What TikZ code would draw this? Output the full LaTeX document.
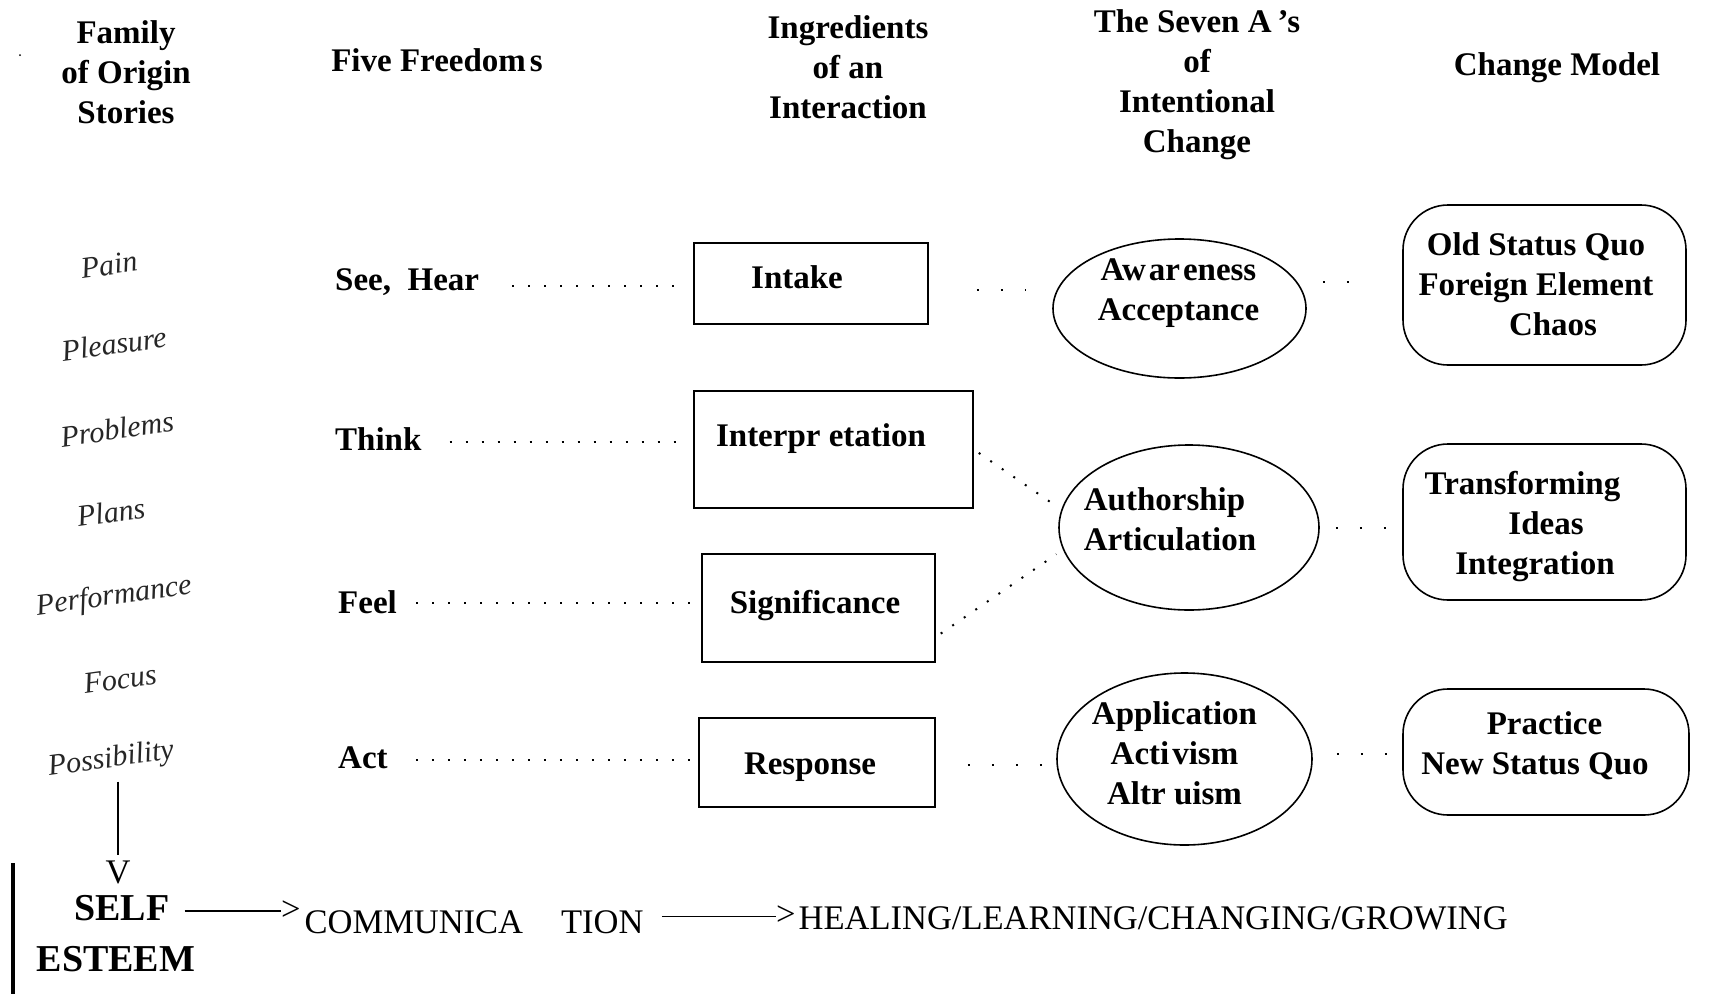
\documentclass[tikz,border=0pt]{standalone}
\usepackage{fontspec}
\setmainfont{Liberation Serif}
\usetikzlibrary{shapes.geometric}
\newcommand\bt{\fontsize{33}{40}\selectfont\bfseries}
\newcommand\storyfont{\fontsize{30}{36}\selectfont\itshape}
\newcommand\selffont{\fontsize{38}{44}\selectfont\bfseries}
\newcommand\capsfont{\fontsize{34.5}{40}\selectfont}
% text block shifted by (dx,dy) from the node centre; lines centred
\newcommand\tx[3]{\raisebox{\dimexpr#2-9pt\relax}[0pt][0pt]{\makebox[0pt]{\hspace*{#1}\hspace*{#1}\begin{tabular}{@{}c@{}}#3\end{tabular}}}}
% same, lines left aligned
\newcommand\txl[3]{\raisebox{\dimexpr#2-9pt\relax}[0pt][0pt]{\makebox[0pt]{\hspace*{#1}\hspace*{#1}\begin{tabular}{@{}l@{}}#3\end{tabular}}}}
\begin{document}
\begin{tikzpicture}[x=1pt,y=1pt,
  hd/.style={font=\bt, align=center, inner sep=0pt},
  ff/.style={font=\bt, anchor=west, inner sep=0pt},
  boxx/.style={draw, line width=1.6pt, inner sep=0pt, font=\bt},
  oval/.style={ellipse, draw, line width=1.6pt, inner sep=0pt, font=\bt},
  rbox/.style={draw, rounded corners=45pt, line width=1.6pt, inner sep=0pt, font=\bt},
  story/.style={font=\storyfont, rotate=8, inner sep=0pt, text=black!85},
  dots/.style={line width=2pt, dash pattern=on 2pt off 14pt},
  sparse/.style={line width=2pt, dash pattern=on 2pt off 22pt},
  caps/.style={font=\capsfont, inner sep=0pt},
  plain/.style={line width=1.3pt},
]
\useasboundingbox[fill=white] (0,0) rectangle (1709,-994);

% headers
\node[hd] (hfam) at (126,-72.5) {Family\\of Origin\\Stories};
\node[hd] (hfive) at (437,-60) {Five Freedom\hspace{4pt}s};
\node[hd] (hing) at (848,-67) {Ingredients\\of an\\Interaction};
\node[hd] (hseven) at (1197,-84.5) {The Seven A\hspace{6pt}’s\\of\\Intentional\\Change};
\node[hd] (hchange) at (1557,-67.6) {Change Model};
\fill (20,-55) circle (1pt);

% family of origin stories
\node[story] (pain) at (109,-265) {Pain};
\node[story] (pleasure) at (114,-344) {Pleasure};
\node[story] (problems) at (117,-429) {Problems};
\node[story] (plans) at (111,-512) {Plans};
\node[story] (perf) at (114,-597) {Performance};
\node[story] (focus) at (120,-679) {Focus};
\node[story] (poss) at (111,-760) {Possibility};

% five freedoms
\node[ff] (see) at (335,-282) {See,\ \ Hear};
\node[ff] (think) at (335,-439) {Think};
\node[ff] (feel) at (338,-602) {Feel};
\node[ff] (act) at (338,-758) {Act};

% ingredients
\node[boxx, minimum width=234pt, minimum height=81pt] (intake) at (811,-283.5) {\tx{-14pt}{5.5pt}{Intake}};
\node[boxx, minimum width=279pt, minimum height=117pt] (interp) at (833.5,-449.5) {\tx{-12.5pt}{13.5pt}{Interpr etation}};
\node[boxx, minimum width=233pt, minimum height=108pt] (sig) at (818.5,-608) {\tx{-3.5pt}{5pt}{Significance}};
\node[boxx, minimum width=236pt, minimum height=89pt] (resp) at (817,-762.5) {\tx{-7pt}{-1.5pt}{Response}};

% seven A's
\node[oval, minimum width=253pt, minimum height=139pt] (aware) at (1179.5,-308.5) {\tx{-1pt}{18.5pt}{Aw\hspace{3pt}ar\hspace{3pt}eness\\Acceptance}};
\node[oval, minimum width=260pt, minimum height=165pt] (auth) at (1189,-527.5) {\txl{-19pt}{7.5pt}{Authorship\\Articulation}};
\node[oval, minimum width=255pt, minimum height=172pt] (appl) at (1184.5,-759) {\tx{-10pt}{5pt}{Application\\Acti\hspace{3pt}vism\\Altr uism}};

% change model
\node[rbox, minimum width=283pt, minimum height=160pt] (cm1) at (1544.5,-285) {\tx{-8.5pt}{0pt}{Old Status Quo\\Foreign Element\\\hspace*{34pt}Chaos}};
\node[rbox, minimum width=283pt, minimum height=156pt] (cm2) at (1544.5,-522) {\tx{-9.5pt}{-2pt}{\hspace*{-25pt}Transforming\\\hspace*{22pt}Ideas\\Integration}};
\node[rbox, minimum width=286pt, minimum height=126pt] (cm3) at (1546,-752) {\tx{-11pt}{8pt}{\hspace*{19pt}Practice\\New Status Quo}};

% dotted connectors
\draw[dots, shorten <=33pt, shorten >=7pt] ([yshift=-4pt]see.east) -- ([yshift=-4pt]see.east -| intake.west);
\draw[dots, shorten <=28pt, shorten >=11pt] ([yshift=-3pt]think.east) -- ([yshift=-3pt]think.east -| interp.west);
\draw[dots, shorten <=19pt, shorten >=5pt] ([yshift=-1pt]feel.east) -- ([yshift=-1pt]feel.east -| sig.west);
\draw[dots, shorten <=28pt, shorten >=5pt] ([yshift=-2pt]act.east) -- ([yshift=-2pt]act.east -| resp.west);
\draw[sparse, shorten <=48pt, shorten >=26pt] ([yshift=-6pt]intake.east) -- ([yshift=-6pt]intake.east -| aware.west);
\draw[sparse, shorten <=16pt, shorten >=50pt] ([yshift=27pt]aware.east) -- ([yshift=27pt]aware.east -| cm1.west);
\draw[line width=2pt, dash pattern=on 2pt off 12pt, shorten <=6pt, shorten >=14pt] (interp.east) -- (auth.172);
\draw[line width=2pt, dash pattern=on 2pt off 12pt, shorten <=6pt, shorten >=8pt] ([yshift=-29pt]sig.east) -- (auth.190);
\draw[sparse, shorten <=16pt, shorten >=8pt] (auth.east) -- (auth.east -| cm2.west);
\draw[sparse, shorten <=32pt, shorten >=3pt] ([yshift=-2pt]resp.east) -- ([yshift=-2pt]resp.east -| appl.west);
\draw[sparse, shorten <=24pt, shorten >=15pt] ([yshift=5pt]appl.east) -- ([yshift=5pt]appl.east -| cm3.west);

% bottom flow
\node[font=\capsfont, inner sep=0pt] (v) at (118,-872) {V};
\draw[plain, shorten <=8pt, shorten >=5pt] (v.north |- poss.south) -- (v.north);
\node[font=\selffont, inner sep=0pt] (self) at (122,-908) {SELF};
\node[font=\selffont, inner sep=0pt] (esteem) at (116,-959) {ESTEEM};
\node[caps, anchor=base west] (comm) at (281,-933) {\raisebox{13pt}{>}\hspace{4pt}COMMUNICA\hspace{38pt}TION};
\node[caps, anchor=base west] (heal) at (776,-929.5) {\raisebox{4.5pt}{>}\hspace{3pt}HEALING/LEARNING/CHANGING/GROWING};
\draw[plain, shorten <=15pt] ([yshift=-3pt]self.east) -- ([yshift=-3pt]self.east -| comm.west);
\draw[plain, shorten <=18pt] (comm.east) -- (comm.east -| heal.west);
\draw[line width=3.5pt] (13,-863) -- (13,-994);
\end{tikzpicture}
\end{document}
